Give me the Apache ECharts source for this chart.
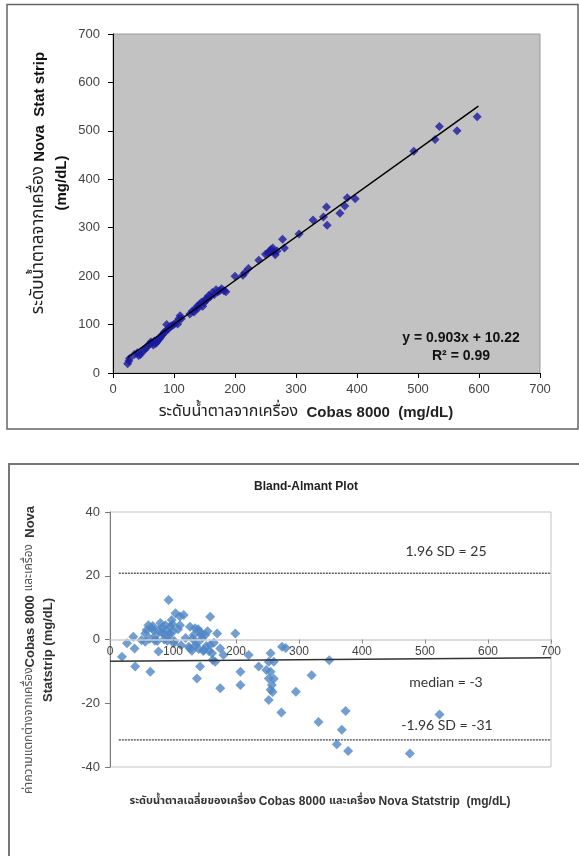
<!DOCTYPE html>
<html>
<head>
<meta charset="utf-8">
<script src="https://cdn.jsdelivr.net/npm/echarts@6/dist/echarts.min.js"></script>
<style>
html,body{margin:0;padding:0;background:#fff;}
#c{width:579px;height:856px;}
</style>
</head>
<body>
<div id="c"></div>
<script>
// ---- Top chart: Cobas 8000 (x) vs Nova StatStrip (y), mg/dL ----
var cobasX = [24,26,27,35,40,42,45,48,52,54,57,60,62,64,66,68,70,72,74,76,78,80,82,84,86,88,90,92,95,97,100,103,106,108,110,112,126,130,133,135,138,140,142,145,147,149,151,153,155,157,160,163,166,169,172,175,178,182,185,200,213,216,222,239,250,254,257,259,262,264,266,269,278,281,305,328,345,350,351,372,380,384,397,493,528,535,564,597];
var novaY  = [19,25,30,38,42,36,38,45,48,52,55,60,64,62,58,66,61,64,68,70,74,78,80,84,86,100,90,94,97,98,100,104,101,112,118,112,122,128,126,132,138,134,142,146,138,145,152,150,154,160,158,166,162,172,168,170,174,170,168,200,202,207,216,233,245,248,252,255,258,250,244,252,276,258,287,316,322,343,305,330,345,362,360,458,482,509,500,529];
// trendline y = 0.903x + 10.22, endpoints
var trendX = [24, 599];
var trendY = [32, 551];
var topTicks = [0,100,200,300,400,500,600,700];

// ---- Bottom chart: Bland-Altman (mean, difference) ----
var baMean = [19,27,37,39,40,50,56,56,58,61,63,64,66,68,69,71,72,75,77,77,80,82,83,85,86,88,90,91,93,93,95,96,98,99,100,101,102,104,108,111,111,113,117,120,125,127,127,130,131,133,135,136,138,138,140,141,143,143,145,146,148,149,151,153,155,157,159,159,162,163,165,167,170,175,175,180,199,207,207,220,236,248,252,252,252,255,255,255,257,258,260,260,272,273,279,295,320,331,348,360,368,374,378,476,523];
var baDiff = [-5.4,-1.2,0.9,-2.8,-8.5,-0.2,1.9,-0.7,3,4.5,0.2,-10.1,3.5,4.2,3,-0.3,1.2,-0.5,-3.8,3,5.2,2.2,3.8,1.9,0,4.5,2.8,-0.4,0.9,12.4,2,4,6.1,4.8,2.5,-1.2,-0.5,8.2,3.2,7.2,4.5,-1.8,7.7,0.5,-2.3,4,-2.8,-3.5,0.2,1.4,3.5,-1.8,-1.2,-12.2,3.2,-3,2.4,-8.5,1.5,0.4,-3.6,-3.3,1.4,-2,2.6,-3.6,7.1,-1.7,-4.3,-6.4,-1,-7,1.9,-2.8,-15.3,-4.9,1.9,-10.1,-14.3,-4.9,-8.5,-9.6,-7,-12.2,-19,-4.3,-10.1,-15.8,-14.3,-16.5,-7,-12.3,-22.9,-2.3,-2.7,-16.4,-11.2,-25.9,-6.5,-32.9,-28.3,-22.4,-35,-35.8,-23.5];
var upperX = [14, 700], upperY = [20.8, 20.8];
var lowerX = [14, 700], lowerY = [-31.5, -31.5];
var medianX = [0, 700], medianY = [-6.8, -5.7];
var baXTicks = [0,100,200,300,400,500,600,700];
var baYTicks = [-40,-20,0,20,40];

function pairs(xs, ys){ return xs.map(function(x,i){ return [x, ys[i]]; }); }

var THAI = "'Noto Sans Thai','Loma','Garuda','Tahoma','Liberation Sans',sans-serif";
var LAT = "'Liberation Sans',Arial,sans-serif";

var chart = echarts.init(document.getElementById('c'), null, {renderer:'canvas'});
var option = {
  animation:false,
  backgroundColor:'#ffffff',
  grid:[
    {left:113, top:34, width:427, height:339, show:true, backgroundColor:'#c2c2c2', borderColor:'#9a9a9a', borderWidth:1},
    {left:110, top:512, width:441, height:255, show:true, backgroundColor:'#ffffff', borderColor:'#c4c4c4', borderWidth:1}
  ],
  xAxis:[
    {gridIndex:0, type:'value', min:topTicks[0], max:topTicks[topTicks.length-1], interval:100,
     axisLine:{show:true, lineStyle:{color:'#000', width:1}},
     axisTick:{show:true, length:5, lineStyle:{color:'#000'}},
     axisLabel:{color:'#444', fontSize:13, fontFamily:LAT, margin:10},
     splitLine:{show:false}},
    {gridIndex:1, type:'value', min:baXTicks[0], max:baXTicks[baXTicks.length-1], interval:100,
     position:'bottom', offset:-127.5,
     axisLine:{show:true, onZero:false, lineStyle:{color:'#d0d0d0', width:1.5}},
     axisTick:{show:true, length:4, lineStyle:{color:'#888'}},
     axisLabel:{color:'#444', fontSize:12, fontFamily:LAT, margin:6},
     splitLine:{show:false}, z:5}
  ],
  yAxis:[
    {gridIndex:0, type:'value', min:0, max:700, interval:100,
     axisLine:{show:true, lineStyle:{color:'#000', width:1}},
     axisTick:{show:true, length:5, lineStyle:{color:'#000'}},
     axisLabel:{color:'#444', fontSize:13, fontFamily:LAT, margin:13},
     splitLine:{show:false}},
    {gridIndex:1, type:'value', min:baYTicks[0], max:baYTicks[baYTicks.length-1], interval:20,
     axisLine:{show:true, onZero:false, lineStyle:{color:'#7a7a7a', width:1}},
     axisTick:{show:true, length:5, lineStyle:{color:'#7a7a7a'}},
     axisLabel:{color:'#444', fontSize:13, fontFamily:LAT, margin:10},
     splitLine:{show:false}}
  ],
  series:[
    {type:'scatter', xAxisIndex:0, yAxisIndex:0, symbol:'diamond', symbolSize:9,
     itemStyle:{color:'#1a1aa0'}, data:pairs(cobasX, novaY), z:3},
    {type:'line', xAxisIndex:0, yAxisIndex:0, showSymbol:false, symbol:'none',
     lineStyle:{color:'#000', width:1.5}, data:pairs(trendX, trendY), z:4},
    {type:'scatter', xAxisIndex:1, yAxisIndex:1, symbol:'diamond', symbolSize:10,
     itemStyle:{color:'#4f86c6'}, data:pairs(baMean, baDiff), z:3},
    {type:'line', xAxisIndex:1, yAxisIndex:1, symbol:'none',
     lineStyle:{color:'#111', width:1, type:[2,1]}, data:pairs(upperX, upperY), z:4},
    {type:'line', xAxisIndex:1, yAxisIndex:1, symbol:'none',
     lineStyle:{color:'#111', width:1, type:[2,1]}, data:pairs(lowerX, lowerY), z:4},
    {type:'line', xAxisIndex:1, yAxisIndex:1, symbol:'none',
     lineStyle:{color:'#333', width:1.5}, data:pairs(medianX, medianY), z:4}
  ],
  graphic:[
    {type:'rect', shape:{x:7, y:4.5, width:571, height:424.5}, style:{fill:null, stroke:'#666', lineWidth:1.5}, silent:true},
    {type:'rect', shape:{x:9, y:464, width:620, height:500}, style:{fill:null, stroke:'#777', lineWidth:2}, silent:true},
    // top y title
    {type:'text', x:40, y:183, rotation:Math.PI/2,
     style:{text:'{t|ระดับน้ำตาลจากเครื่อง}{b| Nova  Stat strip}', align:'center', verticalAlign:'middle',
       rich:{t:{fontFamily:THAI, fontSize:17, fill:'#222'}, b:{fontFamily:LAT, fontSize:15, fontWeight:'bold', fill:'#111'}}}},
    {type:'text', x:62, y:183, rotation:Math.PI/2,
     style:{text:'(mg/dL)', align:'center', verticalAlign:'middle', font:'bold 15px '+LAT, fill:'#111'}},
    // top x title
    {type:'text', x:306, y:413,
     style:{text:'{t|ระดับน้ำตาลจากเครื่อง}{b|  Cobas 8000  (mg/dL)}', align:'center', verticalAlign:'middle',
       rich:{t:{fontFamily:THAI, fontSize:16, fill:'#222'}, b:{fontFamily:LAT, fontSize:15, fontWeight:'bold', fill:'#222'}}}},
    // equation
    {type:'text', x:461, y:338, z:10,
     style:{text:'y = 0.903x + 10.22', align:'center', verticalAlign:'middle', font:'bold 14px '+LAT, fill:'#111'}},
    {type:'text', x:461, y:356, z:10,
     style:{text:'R² = 0.99', align:'center', verticalAlign:'middle', font:'bold 14px '+LAT, fill:'#111'}},
    // bottom title
    {type:'text', x:306, y:487,
     style:{text:'Bland-Almant Plot', align:'center', verticalAlign:'middle', font:'bold 12px '+LAT, fill:'#222'}},
    // bottom x title
    {type:'text', x:320, y:802,
     style:{text:'{t|ระดับน้ำตาลเฉลี่ยของเครื่อง }{b|Cobas 8000 }{t|และเครื่อง }{b|Nova Statstrip  (mg/dL)}', align:'center', verticalAlign:'middle',
       rich:{t:{fontFamily:THAI, fontSize:11, fontWeight:'bold', fill:'#333'}, b:{fontFamily:LAT, fontSize:12, fontWeight:'bold', fill:'#333'}}}},
    // bottom y title
    {type:'text', x:30, y:650, rotation:Math.PI/2,
     style:{text:'{t|ค่าความแตกต่างจากเครื่อง}{b|Cobas 8000 }{t|และเครื่อง  }{b|Nova}', align:'center', verticalAlign:'middle',
       rich:{t:{fontFamily:THAI, fontSize:12, fill:'#555'}, b:{fontFamily:LAT, fontSize:13, fontWeight:'bold', fill:'#333'}}}},
    {type:'text', x:48, y:650, rotation:Math.PI/2,
     style:{text:'Statstrip (mg/dL)', align:'center', verticalAlign:'middle', font:'bold 13px '+LAT, fill:'#333'}},
    // annotations
    {type:'text', x:446, y:551, z:10,
     style:{text:'1.96 SD = 25', align:'center', verticalAlign:'middle', font:'14px Lato,'+LAT, fill:'#333'}},
    {type:'text', x:446, y:682, z:10,
     style:{text:'median = -3', align:'center', verticalAlign:'middle', font:'14px Lato,'+LAT, fill:'#333'}},
    {type:'text', x:447, y:725, z:10,
     style:{text:'-1.96 SD = -31', align:'center', verticalAlign:'middle', font:'14px Lato,'+LAT, fill:'#333'}}
  ]
};
chart.setOption(option);
</script>
</body>
</html>
